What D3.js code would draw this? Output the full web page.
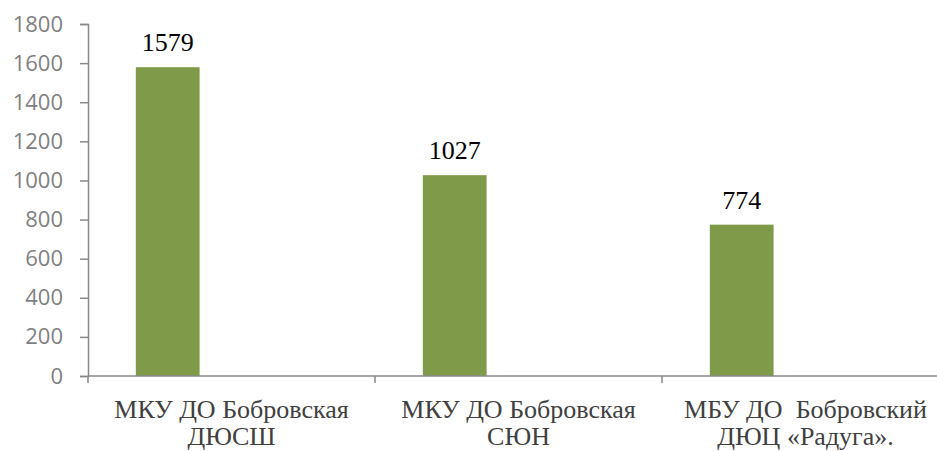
<!DOCTYPE html>
<html>
<head>
<meta charset="utf-8">
<script src="https://cdn.jsdelivr.net/npm/d3@7"></script>
<style>
  html, body { margin: 0; padding: 0; background: #fff; }
  svg { display: block; }
</style>
</head>
<body>
<svg id="chart"></svg>
<script>
// chart data
const categories = ["МКУ ДО Бобровская ДЮСШ", "МКУ ДО Бобровская СЮН", "МБУ ДО  Бобровский ДЮЦ «Радуга»."];
const categoryLines = [
  ["МКУ ДО Бобровская", "ДЮСШ"],
  ["МКУ ДО Бобровская", "СЮН"],
  ["МБУ ДО  Бобровский", "ДЮЦ «Радуга»."]
];
const values = [1579, 1027, 774];
const yTicks = [0, 200, 400, 600, 800, 1000, 1200, 1400, 1600, 1800];

const width = 937, height = 451;
const axisColor = "#898989";
const barColor = "#7f9b4a";

const svg = d3.select("#chart").attr("width", width).attr("height", height);

// x: category bands, each split like an Excel cluster of 3 slots (only first used)
const x = d3.scaleBand().domain(categories).range([88, 88 + 3 * 287]).padding(0);
const xSlot = d3.scaleBand().domain([0, 1, 2]).range([0, x.bandwidth()])
  .paddingInner(0).paddingOuter(0.75);

const y = d3.scaleLinear().domain([0, 1800]).range([376, 24]);

// y axis
const yAxis = svg.append("g")
  .attr("transform", `translate(${x.range()[0]},0)`)
  .call(d3.axisLeft(y).tickValues(yTicks).tickSize(8).tickPadding(17).tickFormat(d3.format("d")));
yAxis.select(".domain").attr("stroke", axisColor).attr("stroke-width", 1.5);
yAxis.selectAll(".tick line").attr("stroke", axisColor).attr("stroke-width", 1.5);
yAxis.selectAll(".tick text")
  .attr("fill", "#7f7f7f")
  .style("font-family", "'Open Sans', sans-serif")
  .style("font-size", "22px");

// bars
svg.append("g")
  .selectAll("rect")
  .data(values)
  .join("rect")
  .attr("x", (d, i) => x(categories[i]) + xSlot(0))
  .attr("y", d => y(d))
  .attr("width", xSlot.bandwidth())
  .attr("height", d => y(0) - y(d))
  .attr("fill", barColor);

// value labels
svg.append("g")
  .selectAll("text")
  .data(values)
  .join("text")
  .attr("x", (d, i) => x(categories[i]) + xSlot(0) + xSlot.bandwidth() / 2)
  .attr("y", d => y(d) - 16)
  .attr("text-anchor", "middle")
  .style("font-family", "'Liberation Serif', 'Times New Roman', serif")
  .style("font-size", "26px")
  .attr("fill", "#000")
  .text(d => d);

// x axis line and category separators
const xAxis = svg.append("g").attr("transform", `translate(0,${y(0)})`);
xAxis.append("line")
  .attr("x1", x.range()[0]).attr("x2", width)
  .attr("stroke", axisColor).attr("stroke-width", 1.5);
xAxis.selectAll("line.sep")
  .data(categories)
  .join("line")
  .attr("class", "sep")
  .attr("x1", d => x(d)).attr("x2", d => x(d))
  .attr("y1", 0).attr("y2", 7)
  .attr("stroke", axisColor).attr("stroke-width", 1.5);

// category labels (two lines each)
const labels = svg.append("g")
  .selectAll("text")
  .data(categories)
  .join("text")
  .attr("x", d => x(d) + x.bandwidth() / 2)
  .attr("y", 418)
  .attr("text-anchor", "middle")
  .attr("xml:space", "preserve")
  .style("white-space", "pre")
  .style("font-family", "'Liberation Serif', 'Times New Roman', serif")
  .style("font-size", "26px")
  .attr("fill", "#404040");

labels.selectAll("tspan")
  .data((d, i) => categoryLines[i])
  .join("tspan")
  .attr("x", function () { return this.parentNode.getAttribute("x"); })
  .attr("dy", (d, j) => j === 0 ? 0 : 27)
  .text(d => d);
</script>
</body>
</html>
